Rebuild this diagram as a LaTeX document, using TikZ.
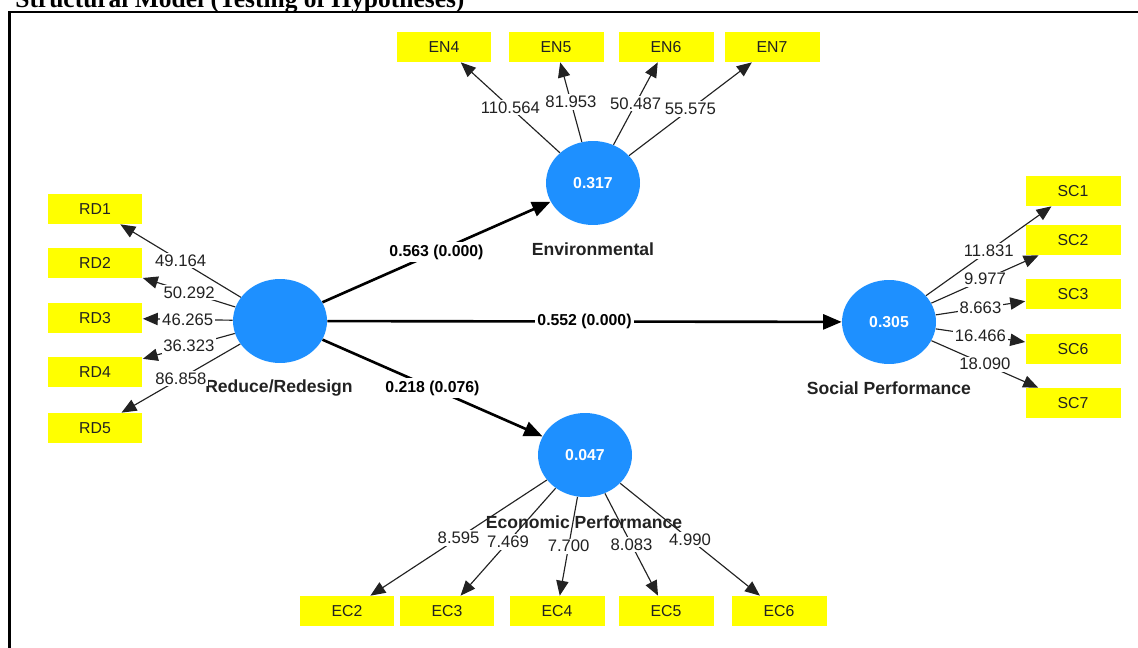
\documentclass[tikz,border=0pt]{standalone}
\usepackage{fontspec}
\setmainfont{Liberation Serif}
\setsansfont{Liberation Sans}
\usepackage{tikz}
\usetikzlibrary{positioning,arrows.meta,calc,shapes.geometric}
\definecolor{LVBlue}{HTML}{1E90FF}
\definecolor{IndYellow}{HTML}{FFFF00}
\definecolor{TxtDark}{HTML}{222222}
\definecolor{LineDark}{HTML}{222222}

\begin{document}
\begin{tikzpicture}[
  x=0.02cm, y=-0.02cm,
  lv/.style={ellipse, fill=LVBlue, draw=none, minimum width=1.88cm, minimum height=1.68cm, inner sep=0pt, text=white, font=\sffamily\bfseries\fontsize{9}{10}\selectfont},
  ind/.style={rectangle, fill=IndYellow, draw=none, minimum width=1.9cm, minimum height=0.6cm, inner sep=0pt, text=TxtDark, font=\sffamily\fontsize{9}{10}\selectfont},
  lvname/.style={inner sep=0pt, text=TxtDark, font=\sffamily\bfseries\fontsize{10}{12}\selectfont},
  load/.style={-{Triangle[length=8.5pt,width=7pt]}, line width=0.65pt, draw=LineDark},
  struct/.style={-{Triangle[length=10.5pt,width=8.5pt]}, line width=1.5pt, draw=black},
  wt/.style={fill=white, inner sep=1pt, text=TxtDark, font=\sffamily\fontsize{9.5}{11}\selectfont},
  coef/.style={fill=white, inner sep=1.5pt, text=black, font=\sffamily\bfseries\fontsize{9}{11}\selectfont},
  frame/.style={line width=1.4pt, draw=black},
  title/.style={inner sep=0pt, font=\bfseries\fontsize{14.5}{17}\selectfont}
]
\useasboundingbox (0,0) rectangle (1138,648);

% heading and frame
\node[title, anchor=base west] (head) at (15,8) {Structural Model (Testing of Hypotheses)};
\draw[frame] (9.7,648) -- (9.7,12) -- (1138,12);

% latent variables
\node[lv] (rr)  at (280,321) {};
\node[lv] (env) at (593,183) {0.317};
\node[lv] (soc) at (889,322) {0.305};
\node[lv] (eco) at (585,455) {0.047};

\node[lvname] (rrname)  at (279,388) {Reduce/Redesign};
\node[lvname] (envname) at (593,249) {Environmental};
\node[lvname] (socname) at (889,388) {Social Performance};
\node[lvname] (econame) at (584,522) {Economic Performance};

% indicators
\node[ind] (rd1) at (95,209) {RD1};
\node[ind] (rd2) at (95,263) {RD2};
\node[ind] (rd3) at (95,318) {RD3};
\node[ind] (rd4) at (95,372) {RD4};
\node[ind] (rd5) at (95,428) {RD5};

\node[ind] (en4) at (444,47) {EN4};
\node[ind] (en5) at (556,47) {EN5};
\node[ind] (en6) at (666,47) {EN6};
\node[ind] (en7) at (772,47) {EN7};

\node[ind] (sc1) at (1073,191) {SC1};
\node[ind] (sc2) at (1073,240) {SC2};
\node[ind] (sc3) at (1073,294) {SC3};
\node[ind] (sc6) at (1073,349) {SC6};
\node[ind] (sc7) at (1073,403) {SC7};

\node[ind] (ec2) at (347,611) {EC2};
\node[ind] (ec3) at (447,611) {EC3};
\node[ind] (ec4) at (557,611) {EC4};
\node[ind] (ec5) at (666,611) {EC5};
\node[ind] (ec6) at (779,611) {EC6};

% outer loadings
\draw[load] (rr) -- node[wt] {49.164} (rd1);
\draw[load] (rr) -- node[wt] {50.292} (rd2);
\draw[load] (rr) -- node[wt] {46.265} (rd3);
\draw[load] (rr) -- node[wt] {36.323} (rd4);
\draw[load] (rr) -- node[wt] {86.858} (rd5);

\draw[load] (env) -- node[wt] {110.564} (en4);
\draw[load] (env) -- node[wt] {81.953} (en5);
\draw[load] (env) -- node[wt] {50.487} (en6);
\draw[load] (env) -- node[wt] {55.575} (en7);

\draw[load] (soc) -- node[wt] {11.831} (sc1);
\draw[load] (soc) -- node[wt] {9.977} (sc2);
\draw[load] (soc) -- node[wt] {8.663} (sc3);
\draw[load] (soc) -- node[wt] {16.466} (sc6);
\draw[load] (soc) -- node[wt] {18.090} (sc7);

\draw[load] (eco) -- node[wt] {8.595} (ec2);
\draw[load] (eco) -- node[wt] {7.469} (ec3);
\draw[load] (eco) -- node[wt] {7.700} (ec4);
\draw[load] (eco) -- node[wt] {8.083} (ec5);
\draw[load] (eco) -- node[wt] {4.990} (ec6);

% structural paths
\draw[struct] (rr) -- node[coef] {0.563 (0.000)} (env);
\draw[struct] (rr) -- node[coef] {0.552 (0.000)} (soc);
\draw[struct] (rr) -- node[coef] {0.218 (0.076)} (eco);
\end{tikzpicture}
\end{document}
